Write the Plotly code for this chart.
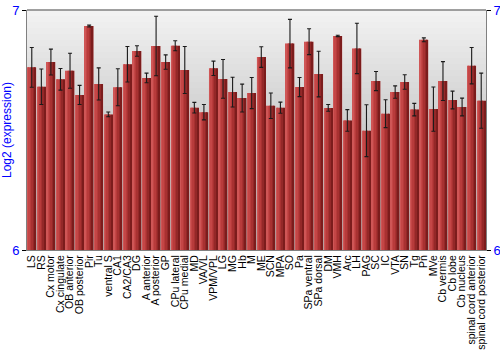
import plotly.graph_objects as go

categories = ["LS", "RS", "Cx motor", "Cx cingulate", "OB anterior", "OB posterior", "Pir", "Tu",
              "ventral S", "CA1", "CA2/CA3", "DG", "A anterior", "A posterior", "GP", "CPu lateral",
              "CPu medial", "MD", "VA/VL", "VPM/VPL", "LG", "MG", "Hb", "M", "ME", "SCN", "MPA", "SO",
              "Pa", "SPa ventral", "SPa dorsal", "DM", "VMH", "Arc", "LH", "PAG", "SC", "IC", "VTA",
              "SN", "Tg", "Pn", "MVe", "Cb vermis", "Cb lobe", "Cb nucleus", "spinal cord anterior",
              "spinal cord posterior"]
values = [6.761, 6.68, 6.783, 6.711, 6.747, 6.646, 6.933, 6.692,
          6.565, 6.678, 6.774, 6.829, 6.717, 6.85, 6.783, 6.851,
          6.75, 6.593, 6.574, 6.757, 6.713, 6.658, 6.633, 6.654, 6.804, 6.601, 6.593, 6.86,
          6.679, 6.868, 6.733, 6.592, 6.892, 6.54, 6.84, 6.497, 6.704, 6.568, 6.658,
          6.7, 6.585, 6.876, 6.587, 6.704, 6.625, 6.596, 6.768,
          6.622]
errors = [0.083, 0.074, 0.054, 0.045, 0.073, 0.04, 0.004, 0.067,
          0.01, 0.077, 0.074, 0.022, 0.02, 0.124, 0.03, 0.021,
          0.098, 0.022, 0.032, 0.03, 0.081, 0.062, 0.058, 0.065, 0.043, 0.053, 0.023, 0.101,
          0.04, 0.054, 0.095, 0.014, 0.003, 0.045, 0.105, 0.108, 0.04, 0.058, 0.026,
          0.03, 0.026, 0.008, 0.092, 0.081, 0.037, 0.037, 0.076,
          0.115]
y_ticks = [6, 7]

fig = go.Figure()

# faint outline bar
fig.add_trace(go.Bar(x=categories, y=values, width=0.96, offset=-0.48,
                     marker=dict(color="rgba(225,150,150,0.55)", line=dict(width=0)),
                     showlegend=False, hoverinfo="skip"))
# gradient strips
strip_colors = ["#cf5656", "#c44646", "#b83b3b", "#a83131", "#942828", "#7c1c1c"]
n = len(strip_colors)
w = 0.88 / n
for k, c in enumerate(strip_colors):
    fig.add_trace(go.Bar(x=categories, y=values, width=w + 0.005, offset=-0.44 + k * w,
                         marker=dict(color=c, line=dict(width=0)),
                         showlegend=False, hoverinfo="skip"))

# error bars
fig.add_trace(go.Scatter(x=categories, y=values, mode="markers",
                         marker=dict(size=0.1, color="rgba(0,0,0,0)"),
                         error_y=dict(type="data", array=errors, visible=True,
                                      color="#1a1a1a", thickness=1.1, width=2),
                         showlegend=False, hoverinfo="skip"))
# invisible trace for right axis
fig.add_trace(go.Scatter(x=[categories[0]], y=[values[0]], yaxis="y2", mode="markers",
                         marker=dict(size=0.1, color="rgba(0,0,0,0)"), showlegend=False,
                         hoverinfo="skip"))

# background gradient (plot area)
steps = 40
top = (242, 242, 242)
bot = (165, 165, 165)
for i in range(steps):
    t = i / (steps - 1)
    col = tuple(int(top[j] + (bot[j] - top[j]) * t) for j in range(3))
    fig.add_shape(type="rect", xref="x domain", yref="y domain",
                  x0=0, x1=1, y0=1 - (i + 1) / steps, y1=1 - i / steps,
                  fillcolor="rgb(%d,%d,%d)" % col, line=dict(width=0), layer="below")

fig.update_layout(
    width=500, height=350,
    margin=dict(l=27, r=14, t=10, b=100),
    barmode="overlay",
    paper_bgcolor="white",
    plot_bgcolor="rgba(0,0,0,0)",
    font=dict(family="Liberation Sans, Arial, sans-serif", size=11, color="black"),
    xaxis=dict(tickangle=-90, tickfont=dict(size=10.5, color="black"), showgrid=False,
               tickmode="array", tickvals=categories, ticktext=categories,
               showline=True, linecolor="#808080", mirror=False, ticks="",
               automargin=False, range=[-0.5, len(categories) - 0.5]),
    yaxis=dict(range=[6, 7], tickvals=y_ticks, ticktext=[str(v) for v in y_ticks],
               tickfont=dict(size=13, color="#0000ff"), showgrid=False,
               showline=True, linecolor="#808080", ticks="outside", ticklen=4,
               tickcolor="black", zeroline=False, automargin=False,
               title=dict(text="Log2 (expression)", font=dict(size=12, color="#0000ff"),
                          standoff=0)),
    yaxis2=dict(range=[6, 7], tickvals=y_ticks, ticktext=[str(v) for v in y_ticks],
                overlaying="y", side="right", tickfont=dict(size=13, color="#0000ff"),
                showgrid=False, showline=True, linecolor="#808080", ticks="outside",
                ticklen=4, tickcolor="black", zeroline=False, automargin=False),
)
fig.add_shape(type="line", xref="paper", yref="paper", x0=0, x1=1, y0=1, y1=1,
              line=dict(color="#808080", width=1.5))

fig.write_html("out.html")
